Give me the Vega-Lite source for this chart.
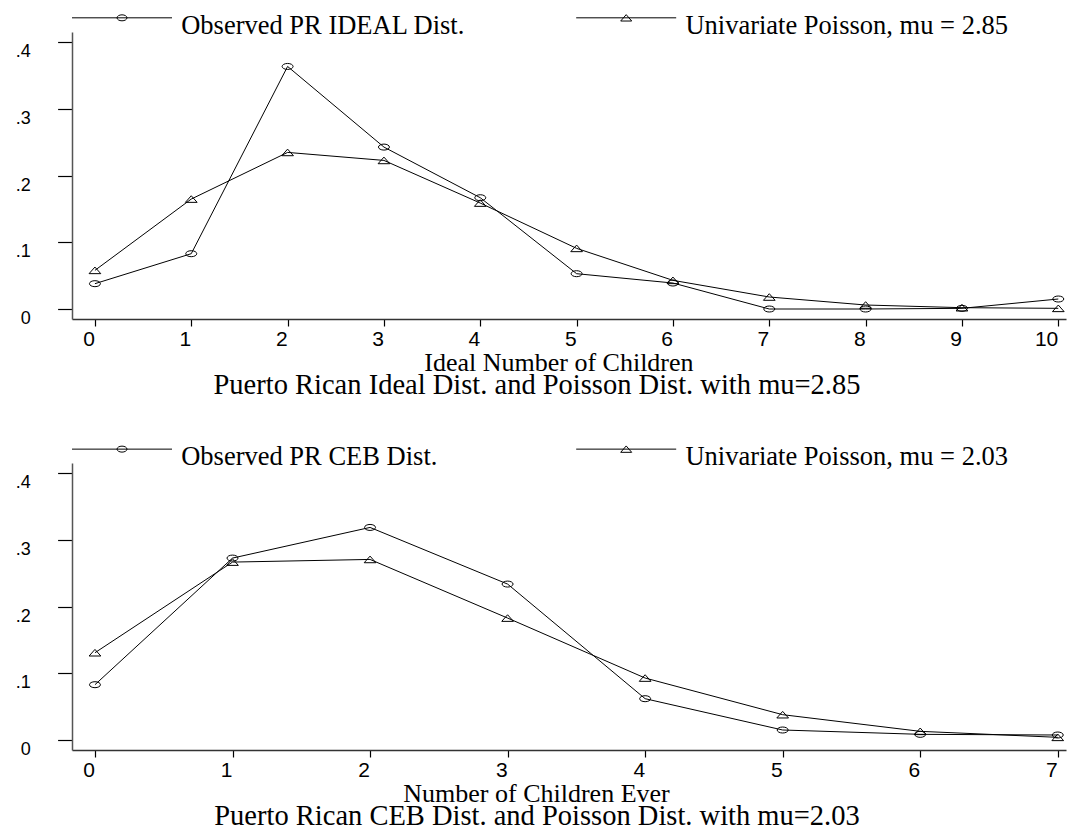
{
  "$schema": "https://vega.github.io/schema/vega-lite/v6.json",
  "background": "white",
  "padding": {"left": 15, "top": 21, "right": 2, "bottom": 0},
  "spacing": 51,
  "resolve": {"scale": {"shape": "independent", "x": "independent", "y": "independent"}, "legend": {"shape": "independent"}},
  "config": {
    "view": {"stroke": null},
    "axis": {"grid": false, "labelColor": "black", "tickColor": "black", "labelOverlap": false, "labelBound": false, "labelFlush": false},
    "legend": {"title": null, "orient": "none", "direction": "horizontal", "columns": 2, "gridAlign": "all", "columnPadding": 70.2, "padding": 0, "labelFont": "Liberation Serif", "labelFontSize": 26.5, "labelColor": "black", "labelBaseline": "alphabetic", "labelOffset": 82.7, "labelLimit": 1000, "symbolOffset": 0, "symbolSize": 400, "symbolStrokeWidth": 1, "symbolStrokeColor": "black", "symbolFillColor": "transparent", "symbolOpacity": 1}
  },
  "datasets": {
    "ideal": [
      {"n": 0, "p": 0.038, "series": "Observed PR IDEAL Dist."},
      {"n": 1, "p": 0.083, "series": "Observed PR IDEAL Dist."},
      {"n": 2, "p": 0.364, "series": "Observed PR IDEAL Dist."},
      {"n": 3, "p": 0.243, "series": "Observed PR IDEAL Dist."},
      {"n": 4, "p": 0.167, "series": "Observed PR IDEAL Dist."},
      {"n": 5, "p": 0.053, "series": "Observed PR IDEAL Dist."},
      {"n": 6, "p": 0.039, "series": "Observed PR IDEAL Dist."},
      {"n": 7, "p": 0.0, "series": "Observed PR IDEAL Dist."},
      {"n": 8, "p": 0.0, "series": "Observed PR IDEAL Dist."},
      {"n": 9, "p": 0.001, "series": "Observed PR IDEAL Dist."},
      {"n": 10, "p": 0.015, "series": "Observed PR IDEAL Dist."},
      {"n": 0, "p": 0.058, "series": "Univariate Poisson, mu = 2.85"},
      {"n": 1, "p": 0.165, "series": "Univariate Poisson, mu = 2.85"},
      {"n": 2, "p": 0.235, "series": "Univariate Poisson, mu = 2.85"},
      {"n": 3, "p": 0.223, "series": "Univariate Poisson, mu = 2.85"},
      {"n": 4, "p": 0.159, "series": "Univariate Poisson, mu = 2.85"},
      {"n": 5, "p": 0.091, "series": "Univariate Poisson, mu = 2.85"},
      {"n": 6, "p": 0.043, "series": "Univariate Poisson, mu = 2.85"},
      {"n": 7, "p": 0.018, "series": "Univariate Poisson, mu = 2.85"},
      {"n": 8, "p": 0.006, "series": "Univariate Poisson, mu = 2.85"},
      {"n": 9, "p": 0.002, "series": "Univariate Poisson, mu = 2.85"},
      {"n": 10, "p": 0.001, "series": "Univariate Poisson, mu = 2.85"}
    ],
    "ceb": [
      {"n": 0, "p": 0.083, "series": "Observed PR CEB Dist."},
      {"n": 1, "p": 0.273, "series": "Observed PR CEB Dist."},
      {"n": 2, "p": 0.319, "series": "Observed PR CEB Dist."},
      {"n": 3, "p": 0.234, "series": "Observed PR CEB Dist."},
      {"n": 4, "p": 0.062, "series": "Observed PR CEB Dist."},
      {"n": 5, "p": 0.015, "series": "Observed PR CEB Dist."},
      {"n": 6, "p": 0.0085, "series": "Observed PR CEB Dist."},
      {"n": 7, "p": 0.0075, "series": "Observed PR CEB Dist."},
      {"n": 0, "p": 0.131, "series": "Univariate Poisson, mu = 2.03"},
      {"n": 1, "p": 0.267, "series": "Univariate Poisson, mu = 2.03"},
      {"n": 2, "p": 0.271, "series": "Univariate Poisson, mu = 2.03"},
      {"n": 3, "p": 0.183, "series": "Univariate Poisson, mu = 2.03"},
      {"n": 4, "p": 0.093, "series": "Univariate Poisson, mu = 2.03"},
      {"n": 5, "p": 0.038, "series": "Univariate Poisson, mu = 2.03"},
      {"n": 6, "p": 0.013, "series": "Univariate Poisson, mu = 2.03"},
      {"n": 7, "p": 0.004, "series": "Univariate Poisson, mu = 2.03"}
    ]
  },
  "vconcat": [
    {
      "width": 994,
      "height": 287,
      "data": {"name": "ideal"},
      "title": {"text": "Puerto Rican Ideal Dist. and Poisson Dist. with mu=2.85", "orient": "bottom", "anchor": "middle", "font": "Liberation Serif", "fontSize": 28.5, "fontWeight": "normal", "color": "black", "dx": -32, "offset": -4},
      "encoding": {
        "x": {"field": "n", "type": "quantitative",
          "scale": {"domain": [-0.238, 10.08], "nice": false, "zero": false},
          "axis": {"values": [0,1,2,3,4,5,6,7,8,9,10], "format": "d", "labelFont": "Liberation Sans", "labelFontSize": 21, "labelAlign": "right", "labelBaseline": "top", "labelOffset": -0.5, "labelPadding": 2.5, "tickSize": 7, "tickWidth": 1.2, "domainColor": "#333", "domainWidth": 1.5,
            "title": "Ideal Number of Children", "titleFont": "Liberation Serif", "titleFontSize": 26, "titleFontWeight": "normal", "titleColor": "black", "titleX": 486.4, "titleY": 51, "titleAlign": "center", "titleBaseline": "alphabetic"}},
        "y": {"field": "p", "type": "quantitative",
          "scale": {"domain": [-0.015, 0.4157], "nice": false, "zero": false},
          "axis": {"values": [0, 0.1, 0.2, 0.3, 0.4], "labelExpr": "datum.value == 0 ? '0' : replace(format(datum.value, '.1f'), '0.', '.')", "labelFont": "Liberation Sans", "labelFontSize": 18, "labelAlign": "right", "labelBaseline": "middle", "labelPadding": 27.3, "labelOffset": 9.5, "tickSize": 14.4, "tickWidth": 1.2, "domainColor": "#555", "domainWidth": 1.5, "title": null}}
      },
      "resolve": {"scale": {"shape": "independent"}},
      "layer": [
        {"mark": {"type": "line", "color": "black", "strokeWidth": 1}, "encoding": {"detail": {"field": "series", "type": "nominal"}}},
        {"mark": {"type": "point", "filled": false, "color": "black", "strokeWidth": 1, "size": 100, "opacity": 1},
          "encoding": {"shape": {"field": "series", "type": "nominal",
            "scale": {"domain": ["Observed PR IDEAL Dist.", "Univariate Poisson, mu = 2.85"],
              "range": ["M -1.1 0 C -1.1 -0.331 -0.607 -0.6 0 -0.6 C 0.607 -0.6 1.1 -0.331 1.1 0 C 1.1 0.331 0.607 0.6 0 0.6 C -0.607 0.6 -1.1 0.331 -1.1 0 Z", "M -1.17 0.66 L 0 -0.66 L 1.17 0.66 Z"]},
            "legend": null}}
        },
        {"transform": [{"filter": "false"}],
          "mark": {"type": "point", "filled": false, "color": "black", "strokeWidth": 1, "opacity": 1},
          "encoding": {"shape": {"field": "series", "type": "nominal",
            "scale": {"domain": ["Observed PR IDEAL Dist.", "Univariate Poisson, mu = 2.85"],
              "range": ["M -1.325 -1.66 L 8.675 -1.66 M 3.175 -1.66 C 3.175 -1.826 3.399 -1.96 3.675 -1.96 C 3.951 -1.96 4.175 -1.826 4.175 -1.66 C 4.175 -1.494 3.951 -1.36 3.675 -1.36 C 3.399 -1.36 3.175 -1.494 3.175 -1.66 Z", "M -1.325 -1.66 L 8.675 -1.66 M 3.125 -1.34 L 3.675 -1.98 L 4.225 -1.34 Z"]},
            "legend": {"legendX": 0, "legendY": -10.95}}}
        }
      ]
    },
    {
      "width": 994,
      "height": 287,
      "data": {"name": "ceb"},
      "title": {"text": "Puerto Rican CEB Dist. and Poisson Dist. with mu=2.03", "orient": "bottom", "anchor": "middle", "font": "Liberation Serif", "fontSize": 28.5, "fontWeight": "normal", "color": "black", "dx": -32, "offset": -4},
      "encoding": {
        "x": {"field": "n", "type": "quantitative",
          "scale": {"domain": [-0.167, 7.06], "nice": false, "zero": false},
          "axis": {"values": [0,1,2,3,4,5,6,7], "format": "d", "labelFont": "Liberation Sans", "labelFontSize": 21, "labelAlign": "right", "labelBaseline": "top", "labelOffset": -0.5, "labelPadding": 2.5, "tickSize": 7, "tickWidth": 1.2, "domainColor": "#333", "domainWidth": 1.5,
            "title": "Number of Children Ever", "titleFont": "Liberation Serif", "titleFontSize": 26, "titleFontWeight": "normal", "titleColor": "black", "titleX": 464, "titleY": 51, "titleAlign": "center", "titleBaseline": "alphabetic"}},
        "y": {"field": "p", "type": "quantitative",
          "scale": {"domain": [-0.015, 0.4157], "nice": false, "zero": false},
          "axis": {"values": [0, 0.1, 0.2, 0.3, 0.4], "labelExpr": "datum.value == 0 ? '0' : replace(format(datum.value, '.1f'), '0.', '.')", "labelFont": "Liberation Sans", "labelFontSize": 18, "labelAlign": "right", "labelBaseline": "middle", "labelPadding": 27.3, "labelOffset": 9.5, "tickSize": 14.4, "tickWidth": 1.2, "domainColor": "#555", "domainWidth": 1.5, "title": null}}
      },
      "resolve": {"scale": {"shape": "independent"}},
      "layer": [
        {"mark": {"type": "line", "color": "black", "strokeWidth": 1}, "encoding": {"detail": {"field": "series", "type": "nominal"}}},
        {"mark": {"type": "point", "filled": false, "color": "black", "strokeWidth": 1, "size": 100, "opacity": 1},
          "encoding": {"shape": {"field": "series", "type": "nominal",
            "scale": {"domain": ["Observed PR CEB Dist.", "Univariate Poisson, mu = 2.03"],
              "range": ["M -1.1 0 C -1.1 -0.331 -0.607 -0.6 0 -0.6 C 0.607 -0.6 1.1 -0.331 1.1 0 C 1.1 0.331 0.607 0.6 0 0.6 C -0.607 0.6 -1.1 0.331 -1.1 0 Z", "M -1.17 0.66 L 0 -0.66 L 1.17 0.66 Z"]},
            "legend": null}}
        },
        {"transform": [{"filter": "false"}],
          "mark": {"type": "point", "filled": false, "color": "black", "strokeWidth": 1, "opacity": 1},
          "encoding": {"shape": {"field": "series", "type": "nominal",
            "scale": {"domain": ["Observed PR CEB Dist.", "Univariate Poisson, mu = 2.03"],
              "range": ["M -1.325 -1.57 L 8.675 -1.57 M 3.175 -1.57 C 3.175 -1.736 3.399 -1.87 3.675 -1.87 C 3.951 -1.87 4.175 -1.736 4.175 -1.57 C 4.175 -1.404 3.951 -1.27 3.675 -1.27 C 3.399 -1.27 3.175 -1.404 3.175 -1.57 Z", "M -1.325 -1.57 L 8.675 -1.57 M 3.125 -1.25 L 3.675 -1.89 L 4.225 -1.25 Z"]},
            "legend": {"legendX": 0, "legendY": -11.55}}}
        }
      ]
    }
  ]
}
